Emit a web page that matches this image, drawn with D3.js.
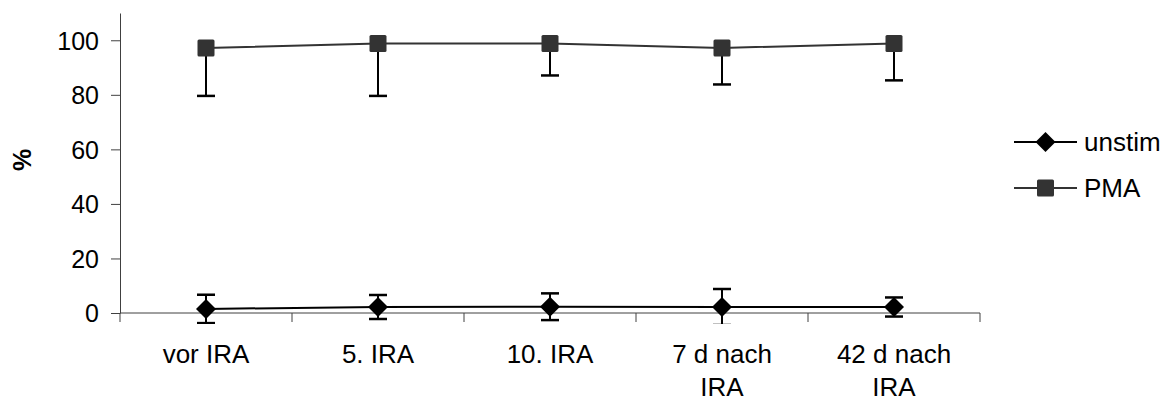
<!DOCTYPE html>
<html>
<head>
<meta charset="utf-8">
<script src="https://cdn.jsdelivr.net/npm/d3@7"></script>
<style>
  body { margin: 0; background: #fff; }
  text { font-family: Arial, "Liberation Sans", sans-serif; fill: #000; }
</style>
</head>
<body>
<div id="chart"></div>
<script>
// categories (two-line labels)
var categories = ["vor IRA", "5. IRA", "10. IRA", "7 d nach|IRA", "42 d nach|IRA"]
var unstimValues = [1.5, 2.2, 2.3, 2.2, 2.2]
var unstimErrors = [5.2, 4.4, 4.9, 6.6, 3.5]
var pmaValues = [97.2, 98.8, 98.8, 97.2, 98.8]
var pmaErrors = [17.6, 19.2, 11.7, 13.4, 13.5]
var yTicks = [0, 20, 40, 60, 80, 100]

var width = 1171, height = 403
var svg = d3.select("#chart").append("svg")
  .attr("width", width).attr("height", height)

var x = d3.scaleBand().domain(d3.range(categories.length)).range([120, 980])
var y = d3.scaleLinear().domain([0, 110]).range([313, 13])
var cx = function(i){ return x(i) + x.bandwidth() / 2 }

// y axis
var yAxis = svg.append("g")
  .attr("transform", "translate(120,0)")
  .call(d3.axisLeft(y).tickValues(yTicks).tickSize(9).tickPadding(12).tickSizeOuter(0))
yAxis.select(".domain").attr("stroke", "#404040")
yAxis.selectAll(".tick line").attr("stroke", "#404040")
yAxis.selectAll(".tick text").style("font-size", "25px").attr("dy", "0.35em")

// x axis: ticks at category boundaries
var xg = svg.append("g").attr("transform", "translate(0," + y(0) + ")")
xg.append("line").attr("x1", 120).attr("x2", 980).attr("stroke", "#404040")
xg.selectAll(".bt").data(d3.range(categories.length + 1)).enter()
  .append("line")
  .attr("x1", function(d){ return 120 + d * x.bandwidth() })
  .attr("x2", function(d){ return 120 + d * x.bandwidth() })
  .attr("y1", 0).attr("y2", 9)
  .attr("stroke", "#404040")

categories.forEach(function(c, i){
  var t = svg.append("text")
    .attr("x", cx(i)).attr("y", 363)
    .attr("text-anchor", "middle")
    .style("font-size", "26px")
  c.split("|").forEach(function(part, k){
    t.append("tspan").attr("x", cx(i)).attr("dy", k == 0 ? 0 : 33).text(part)
  })
})

// y title
svg.append("text")
  .attr("transform", "translate(31," + 160 + ") rotate(-90)")
  .attr("text-anchor", "middle")
  .style("font-size", "25px").style("font-weight", "bold")
  .text("%")

// clip for error bars (plot area bottom)
svg.append("clipPath").attr("id", "plotclip")
  .append("rect").attr("x", 100).attr("y", 0).attr("width", 900).attr("height", 324)

var line = d3.line().x(function(d, i){ return cx(i) }).y(function(d){ return y(d) })

function drawSeries(values, errors, color, lowerOnly, marker){
  var g = svg.append("g")
  var eb = g.append("g").attr("clip-path", "url(#plotclip)")
  values.forEach(function(v, i){
    var top = lowerOnly ? v : v + errors[i]
    var bot = v - errors[i]
    eb.append("line").attr("x1", cx(i)).attr("x2", cx(i))
      .attr("y1", y(top)).attr("y2", y(bot))
      .attr("stroke", "#000").attr("stroke-width", 2)
    eb.append("line").attr("x1", cx(i) - 9).attr("x2", cx(i) + 9)
      .attr("y1", y(bot)).attr("y2", y(bot))
      .attr("stroke", "#000").attr("stroke-width", 2.5)
    if(!lowerOnly){
      eb.append("line").attr("x1", cx(i) - 9).attr("x2", cx(i) + 9)
        .attr("y1", y(top)).attr("y2", y(top))
        .attr("stroke", "#000").attr("stroke-width", 2.5)
    }
  })
  g.append("path").datum(values)
    .attr("d", line).attr("fill", "none")
    .attr("stroke", color).attr("stroke-width", 2)
  values.forEach(function(v, i){
    marker(g, cx(i), y(v))
  })
}

function diamond(g, px, py){
  g.append("path")
    .attr("d", "M" + px + "," + (py - 10) + "L" + (px + 10) + "," + py + "L" + px + "," + (py + 10) + "L" + (px - 10) + "," + py + "Z")
    .attr("fill", "#000")
}
function square(g, px, py){
  g.append("rect")
    .attr("x", px - 8.5).attr("y", py - 8.5)
    .attr("width", 17).attr("height", 17).attr("rx", 1.5)
    .attr("fill", "#333")
}

drawSeries(pmaValues, pmaErrors, "#333", true, square)
drawSeries(unstimValues, unstimErrors, "#000", false, diamond)

// legend
var legend = [
  {name: "unstim", color: "#000", marker: diamond, y: 142},
  {name: "PMA", color: "#333", marker: square, y: 188}
]
legend.forEach(function(l){
  var g = svg.append("g")
  g.append("line").attr("x1", 1014).attr("x2", 1077)
    .attr("y1", l.y).attr("y2", l.y)
    .attr("stroke", l.color).attr("stroke-width", 2)
  l.marker(g, 1045.5, l.y)
  g.append("text").attr("x", 1084).attr("y", l.y).attr("dy", "0.35em")
    .style("font-size", "26px").text(l.name)
})
</script>
</body>
</html>
